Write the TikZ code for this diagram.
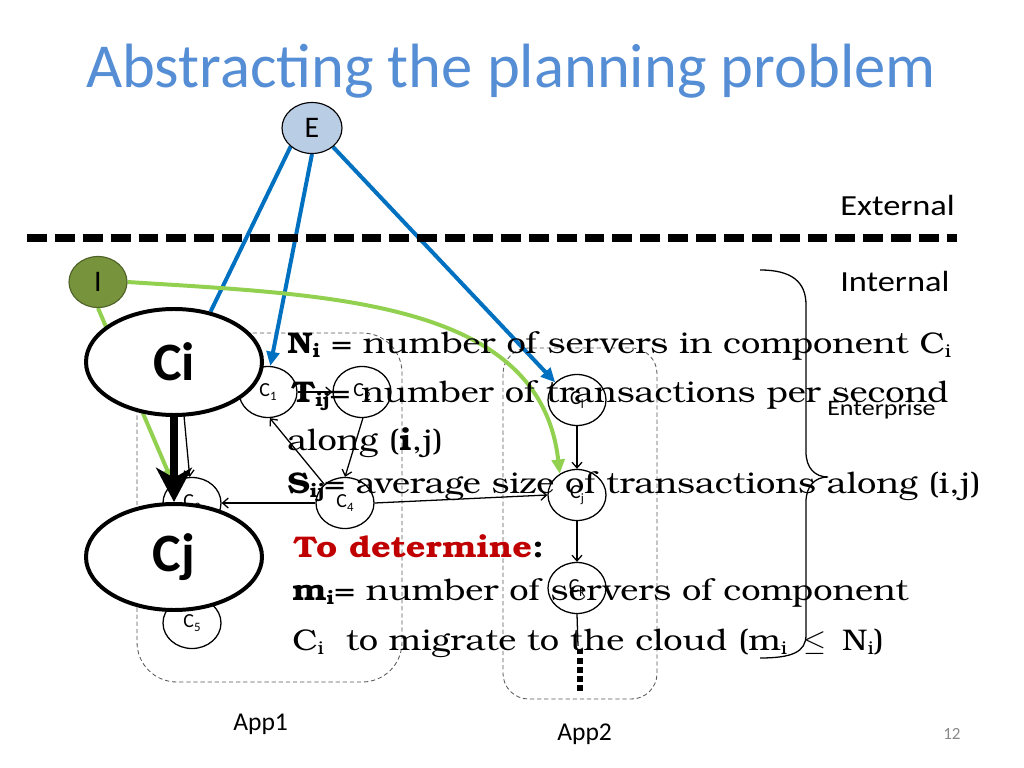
\documentclass[tikz,border=0pt]{standalone}
\usepackage{fontspec}
\setmainfont{Carlito}
\newfontfamily\widecal{Carlito}[FakeStretch=1.18]
\newfontfamily\bonum{texgyrebonum}[Extension=.otf,UprightFont=*-regular,BoldFont=*-bold,ItalicFont=*-italic,BoldItalicFont=*-bolditalic,FakeStretch=1.15]
\usetikzlibrary{shapes.geometric,arrows.meta}
\definecolor{titleblue}{HTML}{558ED5}
\definecolor{eblue}{HTML}{0070C0}
\definecolor{egreen}{HTML}{92D050}
\definecolor{efill}{HTML}{B9CDE5}
\definecolor{ifill}{HTML}{77933C}
\definecolor{iline}{HTML}{4F6228}
\definecolor{dred}{HTML}{C00000}
\definecolor{pgnum}{HTML}{898989}
\pgfdeclarelayer{back}\pgfdeclarelayer{front}\pgfsetlayers{back,main,front}
\newcommand{\lo}[1]{\raisebox{-0.3ex}{\fontsize{13}{13}\selectfont #1}}
\newcommand{\slo}[1]{\raisebox{-0.4ex}{\fontsize{9}{9}\selectfont #1}}
\newcommand{\pxu}{0.703125pt}
\tikzset{
 comp/.style={ellipse, draw, fill=white, line width=0.9pt, minimum width=58*\pxu, minimum height=51*\pxu, inner sep=0pt, font=\fontsize{14}{14}\selectfont},
 bigcomp/.style={ellipse, draw, fill=white, line width=2.8pt, minimum width=176*\pxu, minimum height=106*\pxu, inner sep=0pt, font=\bfseries\fontsize{38}{38}\selectfont},
 appbox/.style={draw=black!65, dash pattern=on 3pt off 2pt, line width=0.6pt},
 flow/.style={line width=0.9pt, -{Straight Barb[length=4pt,width=7pt]}},
 extline/.style={eblue, line width=2.8pt},
 extarrow/.style={extline, -{Triangle[length=10pt,width=9pt]}},
 intarrow/.style={egreen, line width=2.8pt, -{Triangle[length=10pt,width=9pt]}},
 txt/.style={anchor=base west, inner sep=0pt, font=\bonum\fontsize{21}{24}\selectfont},
 lbl/.style={anchor=base west, inner sep=0pt, font=\widecal\fontsize{20.5}{24}\selectfont},
}
\begin{document}
\begin{tikzpicture}[x=0.703125pt, y=-0.703125pt]
\useasboundingbox (0,0) rectangle (1024,768);

% title and labels
\node[anchor=base, inner sep=0pt, font=\fontsize{44}{44}\selectfont, text=titleblue] (title) at (511,88) {Abstracting the planning problem};
\node[lbl] (ext) at (840,216) {External};
\node[lbl] (intl) at (840,291) {Internal};
\node[anchor=base west, inner sep=0pt, font=\widecal\fontsize{15.5}{15.5}\selectfont] (ent) at (827,415) {Enterprise};
\node[anchor=base west, inner sep=0pt, font=\fontsize{18}{18}\selectfont] (app1) at (233,730) {App1};
\node[anchor=base west, inner sep=0pt, font=\fontsize{18}{18}\selectfont] (app2) at (557,740) {App2};
\node[anchor=base west, inner sep=0pt, font=\fontsize{12}{12}\selectfont, text=pgnum] (pg) at (943,739) {12};

% boundary line
\draw[line width=5.6pt, dash pattern=on 14pt off 5.6pt] (27,238) -- (957,238);

% brace
\draw[line width=0.9pt] (760,270) .. controls (792,270) and (806,282) .. (806,305) -- (806,452)
  .. controls (806,468) and (815,477) .. (828,477)
  .. controls (815,477) and (806,486) .. (806,502) -- (806,635)
  .. controls (806,652) and (792,658) .. (760,658);

\begin{pgfonlayer}{back}
\draw[appbox, rounded corners=28pt] (137,333) rectangle (402,682);
\draw[appbox, rounded corners=18pt] (503,348) rectangle (657,699);

\node[comp] (C1) at (268,392) {C\slo{1}};
\node[comp] (C2) at (362,392) {C\slo{2}};
\node[comp] (C3) at (192,503) {C\slo{3}};
\node[comp] (C4) at (345,503) {C\slo{4}};
\node[comp] (C5) at (192,623) {C\slo{5}};
\node[comp] (Ci2) at (577,400) {C\slo{i}};
\node[comp] (Cj2) at (577,495) {C\slo{j}};
\node[comp] (Ck) at (577,588) {C\slo{k}};

\coordinate (h) at (183,405);
\coordinate (kd) at (578,646);
\coordinate (d1) at (580,649);
\coordinate (d2) at (580,694);

\draw[flow] (C1.east) -- (C2.west);
\draw[flow] (C2.-88) -- (C4.north);
\draw[flow] (C4.138) -- (C1.-86);
\draw[flow] (C4.west) -- (C3.east);
\draw[flow] (C4.east) -- (Cj2.west);
\draw[flow] (Ci2.south) -- (Cj2.north);
\draw[flow] (Cj2.south) -- (Ck.north);
\draw[flow] (h) -- (C3.95);
\draw[line width=0.9pt] (Ck.south) -- (kd);
\draw[line width=4pt, dash pattern=on 3.8pt off 2.6pt] (d1) -- (d2);
\end{pgfonlayer}

% external and internal nodes
\node[ellipse, draw, fill=efill, line width=0.8pt, minimum width=60*\pxu, minimum height=51*\pxu, inner sep=0pt, font=\fontsize{21}{21}\selectfont] (E) at (312,128) {E};
\node[ellipse, draw=iline, fill=ifill, line width=0.8pt, minimum width=58*\pxu, minimum height=51*\pxu, inner sep=0pt, font=\fontsize{21}{21}\selectfont] (I) at (98,282) {I};

% big components
\node[bigcomp] (Ci) at (174,362) {Ci};
\node[bigcomp] (Cj) at (174,557) {Cj};

\begin{pgfonlayer}{back}
\draw[extline] (E.221) -- (Ci.54);
\draw[extarrow] (E.south) -- (C1.85);
\draw[extarrow] (E.-42) -- (Ci2.141);
\draw[intarrow] (I.east) .. controls (330,295) and (540,300) .. (Cj2.129);
\draw[intarrow] (I.south) -- (C3.134);
\end{pgfonlayer}

\draw[line width=5.6pt, -{Stealth[length=24pt,width=25pt,inset=7pt]}] (Ci.south) -- (Cj.north);

% text block
\begin{pgfonlayer}{front}
\node[txt] (t1) at (287,353) {{\bfseries N\lo{i}} = number of servers in component C\lo{i}};
\node[txt] (t2) at (291,402) {{\bfseries T\lo{ij}}= number of transactions per second};
\node[txt] (t3) at (287,450) {along ({\bfseries i},j)};
\node[txt] (t4) at (287,493) {{\bfseries S\lo{ij}}= average size of transactions along (i,j)};
\node[txt] (t5) at (293,557) {\bfseries\textcolor{dred}{To determine}:};
\node[txt] (t6) at (292,600) {{\bfseries m\lo{i}}= number of servers of component};
\node[txt] (t7) at (292,650) {C\lo{i}\ \ to migrate to the cloud (m\lo{i} \,$\leq$\, N\lo{i})};
\end{pgfonlayer}
\end{tikzpicture}
\end{document}
